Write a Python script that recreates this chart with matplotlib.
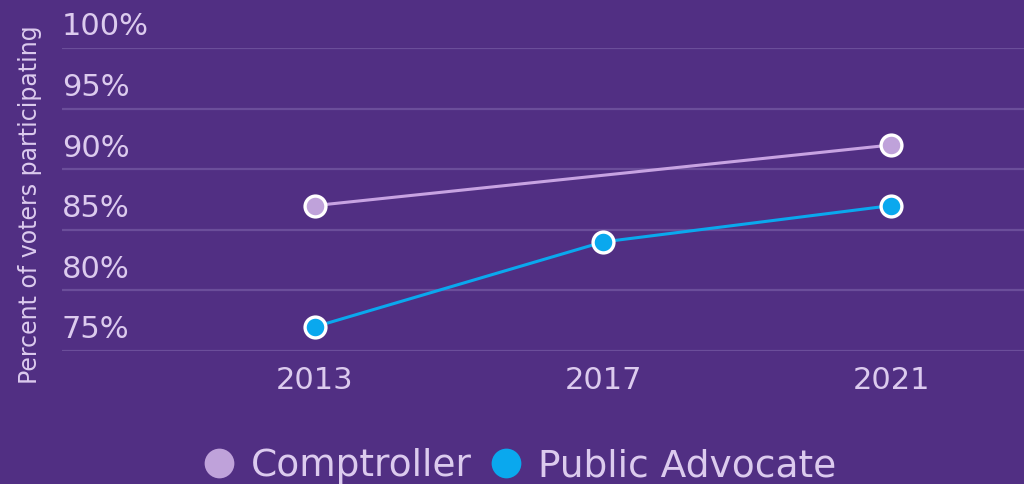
import matplotlib.pyplot as plt
import matplotlib.transforms as mtransforms
import numpy as np

years = ["2013", "2017", "2021"]
comptroller = [87, np.nan, 92]
public_advocate = [77, 84, 87]
y_ticks = [75, 80, 85, 90, 95, 100]

bg = "#512F83"
grid_col = "#6B4E9A"
text_col = "#DCCBEE"
comp_col = "#C7A3E2"
pa_col = "#0AA8EE"

plt.rcParams["font.family"] = ["DejaVu Sans"]

fig = plt.figure(figsize=(10.24, 4.84), dpi=100, facecolor=bg)
ax = fig.add_axes([0.0605, 0.2748, 0.9395, 0.626])
ax.set_facecolor(bg)

x = np.arange(len(years))
comp = np.array(comptroller, dtype=float)
mask = ~np.isnan(comp)
ax.plot(x[mask], comp[mask], color=comp_col, lw=2.2, marker="o", ms=15,
        mfc="#BFA2DA", mec="white", mew=2.4, zorder=3, label="Comptroller")
ax.plot(x, public_advocate, color=pa_col, lw=2.2, marker="o", ms=15,
        mfc=pa_col, mec="white", mew=2.4, zorder=3, label="Public Advocate")

ax.set_xlim(-0.878, 2.46)
ax.set_ylim(75, 100)
ax.set_yticks(y_ticks)
ax.set_yticklabels([])
ax.tick_params(axis="y", length=0)
ax.grid(axis="y", color=grid_col, lw=1.6)
ax.set_axisbelow(True)
for s in ax.spines.values():
    s.set_visible(False)

# y labels sit just above their gridlines
trans = mtransforms.blended_transform_factory(ax.transAxes, ax.transData)
for v in y_ticks:
    ax.text(0.0, v + 0.55, f"{v}%", transform=trans, ha="left", va="bottom",
            fontsize=22, color=text_col, clip_on=False)

ax.set_xticks(x)
ax.set_xticklabels(years, fontsize=22, color=text_col)
ax.tick_params(axis="x", length=0, pad=11)

fig.text(0.029, 0.578, "Percent of voters participating", rotation=90,
         ha="center", va="center", fontsize=17, color=text_col)

leg = fig.legend(loc="lower center", bbox_to_anchor=(0.508, -0.07), ncol=2,
                 frameon=False, fontsize=27, handlelength=0.8, handletextpad=0.45,
                 columnspacing=0.5, labelcolor=text_col)
for h in leg.legend_handles:
    h.set_linestyle("none")
    h.set_markeredgecolor(h.get_markerfacecolor())
    h.set_markersize(19)

fig.savefig("out.png", dpi=100, facecolor=bg)
